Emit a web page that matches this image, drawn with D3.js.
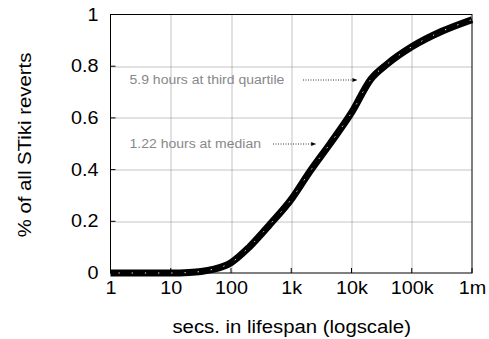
<!DOCTYPE html>
<html>
<head>
<meta charset="utf-8">
<style>
body { margin: 0; background: #fff; }
svg { font-family: "Liberation Sans", Arial, sans-serif; }
</style>
</head>
<body>
<svg id="chart"></svg>
<script src="https://cdnjs.cloudflare.com/ajax/libs/d3/7.8.5/d3.min.js"></script>
<script>
// lifespan in seconds vs cumulative share of reverts
var secs = [1, 10, 20, 32, 50, 100, 200, 450, 1000, 2000, 4400, 10000, 21000, 40000, 100000, 316000, 1000000];
var share = [0, 0, 0.002, 0.006, 0.014, 0.04, 0.1, 0.19, 0.285, 0.39, 0.5, 0.62, 0.75, 0.81, 0.875, 0.935, 0.98];
var xTicks = [1, 10, 100, 1000, 10000, 100000, 1000000];
var xTickLabels = ["1", "10", "100", "1k", "10k", "100k", "1m"];
var yTicks = [0, 0.2, 0.4, 0.6, 0.8, 1];
var notes = [
  {text: "5.9 hours at third quartile", from: 303, secs: 21240, v: 0.75},
  {text: "1.22 hours at median", from: 273, secs: 4392, v: 0.5}
];

var W = 489, H = 339;
var margin = {top: 14.5, right: 17, bottom: 66, left: 110.5};
var width = W - margin.left - margin.right,
    height = H - margin.top - margin.bottom;

var svg = d3.select('#chart').attr('width', W).attr('height', H);
var g = svg.append('g').attr('transform', 'translate(' + margin.left + ',' + margin.top + ')');

var x = d3.scaleLog().domain([1, 1000000]).range([0, width]);
var y = d3.scaleLinear().domain([0, 1]).range([height, 0]);

// the original type is a bit wider than Liberation Sans
function stretch(sel, k) {
  sel.each(function () {
    var w = this.getComputedTextLength();
    d3.select(this).attr('textLength', w * k).attr('lengthAdjust', 'spacingAndGlyphs');
  });
}

// grid
g.selectAll('.gx').data(xTicks.slice(1, -1)).enter().append('line')
  .attr('x1', d => Math.round(x(d)) + 0.5).attr('x2', d => Math.round(x(d)) + 0.5)
  .attr('y1', 0).attr('y2', height)
  .attr('stroke', '#888').attr('stroke-width', 1).attr('stroke-dasharray', '1,1');
g.selectAll('.gy').data(yTicks.slice(1, -1)).enter().append('line')
  .attr('x1', 0).attr('x2', width)
  .attr('y1', d => Math.round(y(d)) + 0.5).attr('y2', d => Math.round(y(d)) + 0.5)
  .attr('stroke', '#888').attr('stroke-width', 1).attr('stroke-dasharray', '1,1');

// axes
var xAxis = d3.axisBottom(x).tickValues(xTicks).tickFormat((d, i) => xTickLabels[i]).tickSize(0).tickPadding(9);
var yAxis = d3.axisLeft(y).tickValues(yTicks).tickFormat(d3.format('')).tickSize(0).tickPadding(12);
var gx = g.append('g').attr('transform', 'translate(0,' + height + ')').call(xAxis);
var gy = g.append('g').call(yAxis);
[gx, gy].forEach(function (a) {
  a.select('.domain').remove();
  a.selectAll('text').attr('font-size', 17.5).attr('fill', '#000')
    .attr('font-family', '"Liberation Sans", Arial, sans-serif');
  stretch(a.selectAll('text'), 1.13);
});

// small inward ticks
g.selectAll('.tx').data(xTicks).enter().append('line')
  .attr('x1', d => x(d)).attr('x2', d => x(d)).attr('y1', height).attr('y2', height - 5)
  .attr('stroke', '#000');
g.selectAll('.ty').data(yTicks).enter().append('line')
  .attr('x1', 0).attr('x2', 5).attr('y1', d => y(d)).attr('y2', d => y(d))
  .attr('stroke', '#000');

g.append('rect').attr('width', width).attr('height', height)
  .attr('fill', 'none').attr('stroke', '#000').attr('stroke-width', 1);

// curve
var data = secs.map((s, i) => ({s: s, v: share[i]}));
var line = d3.line().x(d => x(d.s)).y(d => y(d.v)).curve(d3.curveMonotoneX);
g.append('path').datum(data).attr('d', line)
  .attr('fill', 'none').attr('stroke', '#000').attr('stroke-width', 7);
g.append('path').datum(data).attr('d', line)
  .attr('fill', 'none').attr('stroke', '#fff').attr('stroke-width', 1)
  .attr('stroke-dasharray', '1.2,12').attr('stroke-dashoffset', -140);

// annotations
g.append('defs').append('marker').attr('id', 'arr')
  .attr('viewBox', '0 0 10 10').attr('refX', 10).attr('refY', 5)
  .attr('markerWidth', 8).attr('markerHeight', 6).attr('orient', 'auto')
  .append('path').attr('d', 'M0,1L10,5L0,9Z').attr('fill', '#000');
notes.forEach(function (n) {
  var yy = Math.round(y(n.v)) + 0.5;
  var t = g.append('text').attr('x', 19).attr('y', yy).attr('dy', '0.35em')
    .attr('font-size', 12.5).attr('fill', '#888').text(n.text);
  stretch(t, 1.12);
  g.append('line').attr('x1', n.from - margin.left).attr('x2', x(n.secs) - 14)
    .attr('y1', yy).attr('y2', yy)
    .attr('stroke', '#000').attr('stroke-width', 0.8).attr('stroke-dasharray', '1,1.5')
    .attr('marker-end', 'url(#arr)');
});

// axis titles
var xt = svg.append('text').attr('x', 291.7).attr('y', 333).attr('text-anchor', 'middle')
  .attr('font-size', 18).text('secs. in lifespan (logscale)');
stretch(xt, 1.13);
var yt = svg.append('text').attr('transform', 'translate(31,145) rotate(-90)').attr('text-anchor', 'middle')
  .attr('font-size', 18).text('% of all STiki reverts');
stretch(yt, 1.13);
</script>
</body>
</html>
